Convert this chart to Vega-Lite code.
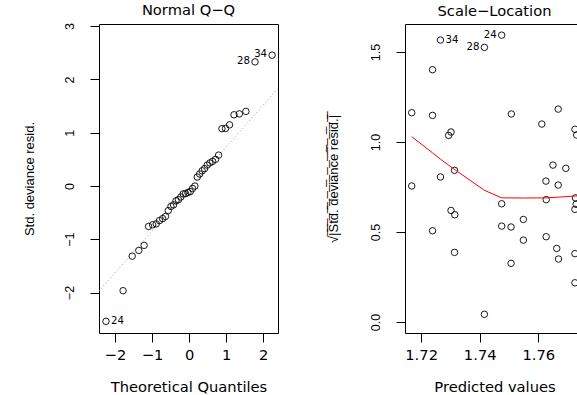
{
  "$schema": "https://vega.github.io/schema/vega-lite/v6.json",
  "background": "white",
  "padding": {"left": 22, "top": 2, "right": 0, "bottom": 0},
  "spacing": 127,
  "bounds": "flush",
  "datasets": {
    "qq": [
      {"tq": -2.241, "r": -2.541, "id": "24"},
      {"tq": -1.780, "r": -1.966},
      {"tq": -1.534, "r": -1.318},
      {"tq": -1.356, "r": -1.210},
      {"tq": -1.213, "r": -1.115},
      {"tq": -1.092, "r": -0.760},
      {"tq": -0.984, "r": -0.729},
      {"tq": -0.887, "r": -0.711},
      {"tq": -0.798, "r": -0.650},
      {"tq": -0.714, "r": -0.613},
      {"tq": -0.636, "r": -0.572},
      {"tq": -0.561, "r": -0.462},
      {"tq": -0.489, "r": -0.384},
      {"tq": -0.419, "r": -0.355},
      {"tq": -0.352, "r": -0.279},
      {"tq": -0.286, "r": -0.257},
      {"tq": -0.221, "r": -0.207},
      {"tq": -0.157, "r": -0.150},
      {"tq": -0.094, "r": -0.144},
      {"tq": -0.031, "r": -0.1225},
      {"tq": 0.031, "r": -0.106},
      {"tq": 0.094, "r": -0.0475},
      {"tq": 0.157, "r": -0.0018},
      {"tq": 0.221, "r": 0.167},
      {"tq": 0.286, "r": 0.225},
      {"tq": 0.352, "r": 0.284},
      {"tq": 0.419, "r": 0.325},
      {"tq": 0.489, "r": 0.392},
      {"tq": 0.561, "r": 0.432},
      {"tq": 0.636, "r": 0.462},
      {"tq": 0.714, "r": 0.500},
      {"tq": 0.798, "r": 0.579},
      {"tq": 0.887, "r": 1.075},
      {"tq": 0.984, "r": 1.080},
      {"tq": 1.092, "r": 1.147},
      {"tq": 1.213, "r": 1.336},
      {"tq": 1.356, "r": 1.353},
      {"tq": 1.534, "r": 1.399},
      {"tq": 1.780, "r": 2.329, "id": "28"},
      {"tq": 2.241, "r": 2.455, "id": "34"}
    ],
    "qqline": [
      {"tq": -3, "r": -2.418},
      {"tq": 3, "r": 2.304}
    ],
    "sl": [
      {"fitted": 1.7168, "sr": 1.163},
      {"fitted": 1.7266, "sr": 1.567, "id": "34"},
      {"fitted": 1.7239, "sr": 1.402},
      {"fitted": 1.7239, "sr": 1.148},
      {"fitted": 1.7416, "sr": 1.526, "id": "28"},
      {"fitted": 1.7475, "sr": 1.594, "id": "24"},
      {"fitted": 1.7302, "sr": 1.056},
      {"fitted": 1.7294, "sr": 1.037},
      {"fitted": 1.7508, "sr": 1.156},
      {"fitted": 1.7612, "sr": 1.100},
      {"fitted": 1.7668, "sr": 1.183},
      {"fitted": 1.7725, "sr": 1.071},
      {"fitted": 1.7731, "sr": 1.039},
      {"fitted": 1.7168, "sr": 0.756},
      {"fitted": 1.7266, "sr": 0.806},
      {"fitted": 1.7314, "sr": 0.843},
      {"fitted": 1.7650, "sr": 0.872},
      {"fitted": 1.7694, "sr": 0.854},
      {"fitted": 1.7626, "sr": 0.783},
      {"fitted": 1.7668, "sr": 0.761},
      {"fitted": 1.7475, "sr": 0.657},
      {"fitted": 1.7627, "sr": 0.680},
      {"fitted": 1.7727, "sr": 0.690},
      {"fitted": 1.7729, "sr": 0.654},
      {"fitted": 1.7725, "sr": 0.626},
      {"fitted": 1.7302, "sr": 0.620},
      {"fitted": 1.7315, "sr": 0.596},
      {"fitted": 1.7239, "sr": 0.507},
      {"fitted": 1.7475, "sr": 0.533},
      {"fitted": 1.7507, "sr": 0.528},
      {"fitted": 1.7549, "sr": 0.570},
      {"fitted": 1.7549, "sr": 0.455},
      {"fitted": 1.7627, "sr": 0.474},
      {"fitted": 1.7663, "sr": 0.409},
      {"fitted": 1.7669, "sr": 0.350},
      {"fitted": 1.7725, "sr": 0.380},
      {"fitted": 1.7725, "sr": 0.218},
      {"fitted": 1.7314, "sr": 0.387},
      {"fitted": 1.7507, "sr": 0.326},
      {"fitted": 1.7416, "sr": 0.043}
    ],
    "lowess": [
      {"fitted": 1.7168, "sr": 1.030},
      {"fitted": 1.7239, "sr": 0.940},
      {"fitted": 1.7266, "sr": 0.905},
      {"fitted": 1.7302, "sr": 0.862},
      {"fitted": 1.7314, "sr": 0.848},
      {"fitted": 1.7416, "sr": 0.732},
      {"fitted": 1.7475, "sr": 0.690},
      {"fitted": 1.7549, "sr": 0.689},
      {"fitted": 1.7627, "sr": 0.690},
      {"fitted": 1.7668, "sr": 0.694},
      {"fitted": 1.7725, "sr": 0.700},
      {"fitted": 1.7790, "sr": 0.706}
    ]
  },
  "hconcat": [
    {
      "width": 179,
      "height": 309,
      "title": {"text": "Normal Q−Q", "baseline": "alphabetic", "offset": -7},
      "layer": [
        {
          "data": {"name": "qqline"},
          "mark": {"type": "line", "color": "#9a9a9a", "strokeDash": [1, 2.5], "strokeWidth": 1, "clip": true},
          "encoding": {
            "x": {"field": "tq", "type": "quantitative"},
            "y": {"field": "r", "type": "quantitative"}
          }
        },
        {
          "data": {"name": "qq"},
          "mark": {"type": "point", "shape": "circle", "filled": false, "color": "black", "size": 42, "strokeWidth": 0.9, "opacity": 1, "clip": true},
          "encoding": {
            "x": {"field": "tq", "type": "quantitative", "scale": {"domain": [-2.43, 2.40], "nice": false, "zero": false},
                  "axis": {"values": [-2, -1, 0, 1, 2], "title": "Theoretical Quantiles"}},
            "y": {"field": "r", "type": "quantitative", "scale": {"domain": [-2.76, 3.04], "nice": false, "zero": false},
                  "axis": {"values": [-2, -1, 0, 1, 2, 3], "title": "Std. deviance resid.", "titleX": -66}}
          }
        },
        {
          "data": {"name": "qq"},
          "transform": [{"filter": "datum.id == '24'"}],
          "mark": {"type": "text", "align": "left", "baseline": "middle", "dx": 5, "font": "DejaVu Sans", "fontSize": 10.2, "color": "black"},
          "encoding": {
            "x": {"field": "tq", "type": "quantitative"},
            "y": {"field": "r", "type": "quantitative"},
            "text": {"field": "id"}
          }
        },
        {
          "data": {"name": "qq"},
          "transform": [{"filter": "datum.id == '28' || datum.id == '34'"}],
          "mark": {"type": "text", "align": "right", "baseline": "middle", "dx": -5, "dy": -1, "font": "DejaVu Sans", "fontSize": 10.2, "color": "black"},
          "encoding": {
            "x": {"field": "tq", "type": "quantitative"},
            "y": {"field": "r", "type": "quantitative"},
            "text": {"field": "id"}
          }
        }
      ]
    },
    {
      "width": 179,
      "height": 309,
      "title": {"text": "Scale−Location", "baseline": "alphabetic", "offset": -7},
      "layer": [
        {
          "data": {"name": "sl"},
          "mark": {"type": "point", "shape": "circle", "filled": false, "color": "black", "size": 42, "strokeWidth": 0.9, "opacity": 1, "clip": true},
          "encoding": {
            "x": {"field": "fitted", "type": "quantitative", "scale": {"domain": [1.7145, 1.7756], "nice": false, "zero": false},
                  "axis": {"values": [1.72, 1.73, 1.74, 1.75, 1.76, 1.77], "format": ".2f",
                           "labelExpr": "indexof(['1.72','1.74','1.76'], datum.label) >= 0 ? datum.label : ''",
                           "title": "Predicted values"}},
            "y": {"field": "sr", "type": "quantitative", "scale": {"domain": [-0.061, 1.656], "nice": false, "zero": false},
                  "axis": {"values": [0, 0.5, 1, 1.5], "format": ".1f", "title": "√|̅S̅t̅d̅.̅ ̅d̅e̅v̅i̅a̅n̅c̅e̅ ̅r̅e̅s̅i̅d̅.̅|̅", "titleX": -68}}
          }
        },
        {
          "data": {"name": "lowess"},
          "mark": {"type": "line", "color": "#ff0000", "strokeWidth": 1, "clip": true},
          "encoding": {
            "x": {"field": "fitted", "type": "quantitative"},
            "y": {"field": "sr", "type": "quantitative"}
          }
        },
        {
          "data": {"name": "sl"},
          "transform": [{"filter": "datum.id == '34'"}],
          "mark": {"type": "text", "align": "left", "baseline": "middle", "dx": 5, "font": "DejaVu Sans", "fontSize": 10.2, "color": "black"},
          "encoding": {
            "x": {"field": "fitted", "type": "quantitative"},
            "y": {"field": "sr", "type": "quantitative"},
            "text": {"field": "id"}
          }
        },
        {
          "data": {"name": "sl"},
          "transform": [{"filter": "datum.id == '28' || datum.id == '24'"}],
          "mark": {"type": "text", "align": "right", "baseline": "middle", "dx": -5, "font": "DejaVu Sans", "fontSize": 10.2, "color": "black"},
          "encoding": {
            "x": {"field": "fitted", "type": "quantitative"},
            "y": {"field": "sr", "type": "quantitative"},
            "text": {"field": "id"}
          }
        }
      ]
    }
  ],
  "config": {
    "view": {"stroke": "black", "strokeWidth": 1},
    "title": {"font": "DejaVu Sans", "fontSize": 14.7, "fontWeight": "normal", "color": "black", "anchor": "middle"},
    "axis": {
      "grid": false,
      "domain": false,
      "ticks": true,
      "tickColor": "black",
      "tickSize": 9,
      "tickWidth": 1,
      "labelColor": "black",
      "titleColor": "black",
      "titleFontWeight": "normal",
      "labelOverlap": false,
      "labelFlush": false
    },
    "axisX": {
      "labelFont": "DejaVu Sans",
      "labelFontSize": 14.7,
      "labelPadding": 5,
      "titleFont": "DejaVu Sans",
      "titleFontSize": 14.7,
      "titleBaseline": "alphabetic",
      "titleY": 58
    },
    "axisY": {
      "labelFont": "Liberation Sans",
      "labelFontSize": 12.5,
      "labelAngle": -90,
      "labelAlign": "center",
      "labelBaseline": "alphabetic",
      "labelPadding": 17,
      "titleFont": "Liberation Sans",
      "titleFontSize": 13,
      "titleAngle": -90,
      "titleAlign": "center",
      "titleBaseline": "alphabetic"
    }
  }
}
